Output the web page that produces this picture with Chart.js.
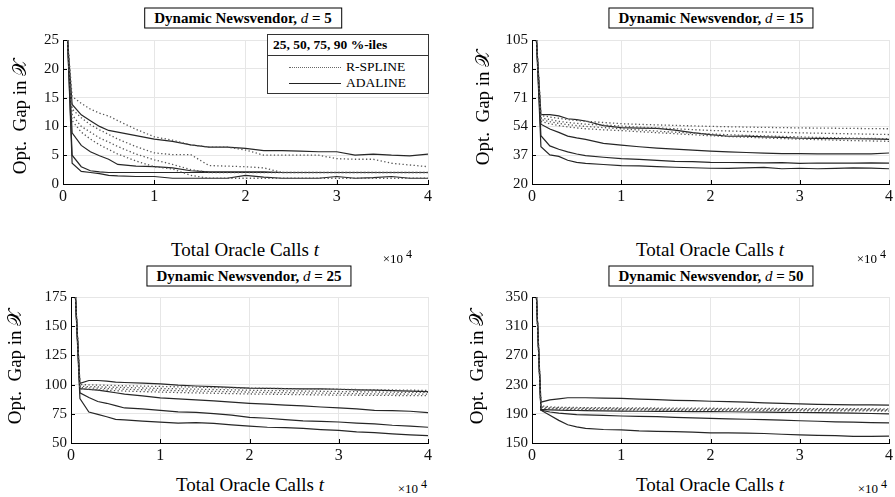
<!DOCTYPE html>
<html>
<head>
<meta charset="utf-8">
<script src="https://cdn.jsdelivr.net/npm/chart.js@4.4.1/dist/chart.umd.min.js"></script>
<style>
body{margin:0;background:#fff;width:895px;height:497px;position:relative;overflow:hidden;font-family:"Liberation Serif","Times New Roman",Times,"DejaVu Serif",serif;color:#000}
canvas{position:absolute}
.ttl{position:absolute;transform:translate(-50%,-50%);border:1px solid #000;background:#fff;font-weight:bold;font-size:15px;padding:0 9px;line-height:19px;white-space:nowrap}
.ttl i{font-weight:normal}
.ylab{position:absolute;transform:translate(-50%,-50%) rotate(-90deg);font-size:19px;white-space:nowrap}
.xlab{position:absolute;transform:translate(-50%,-50%);font-size:19px;white-space:nowrap}
.exp{position:absolute;transform:translate(-100%,-50%);font-size:13px;white-space:nowrap}
.exp sup{font-size:12px}
#leg{position:absolute;left:267px;top:34px;width:160px;height:58px;border:1px solid #333;background:#fff;font-size:13.5px}
#leg .hd{font-weight:bold;height:20px;line-height:20px;padding-left:5px;border-bottom:1px solid #333}
#leg .row{position:absolute;left:0;height:16px;line-height:16px}
#leg .sw{position:absolute;left:21px;width:52px;top:8px}
#leg .tx{position:absolute;left:78px;top:0}
</style>
</head>
<body>
<canvas id="c5"></canvas>
<canvas id="c15"></canvas>
<canvas id="c25"></canvas>
<canvas id="c50"></canvas>

<div class="ttl" style="left:243px;top:18px">Dynamic Newsvendor, <i>d</i> = 5</div>
<div class="ttl" style="left:711px;top:18px">Dynamic Newsvendor, <i>d</i> = 15</div>
<div class="ttl" style="left:249px;top:276px">Dynamic Newsvendor, <i>d</i> = 25</div>
<div class="ttl" style="left:711px;top:276px">Dynamic Newsvendor, <i>d</i> = 50</div>

<div class="ylab" style="left:20px;top:117px">Opt.&nbsp; Gap in 𝒳</div>
<div class="ylab" style="left:483px;top:108px">Opt.&nbsp; Gap in 𝒳</div>
<div class="ylab" style="left:15px;top:367px">Opt.&nbsp; Gap in 𝒳</div>
<div class="ylab" style="left:477px;top:367px">Opt.&nbsp; Gap in 𝒳</div>

<div class="xlab" style="left:245px;top:250px">Total Oracle Calls <i>t</i></div>
<div class="xlab" style="left:710px;top:250px">Total Oracle Calls <i>t</i></div>
<div class="xlab" style="left:250px;top:485px">Total Oracle Calls <i>t</i></div>
<div class="xlab" style="left:710px;top:485px">Total Oracle Calls <i>t</i></div>

<div class="exp" style="left:412px;top:257px">×10<sup> 4</sup></div>
<div class="exp" style="left:886px;top:257px">×10<sup> 4</sup></div>
<div class="exp" style="left:427px;top:487px">×10<sup> 4</sup></div>
<div class="exp" style="left:887px;top:487px">×10<sup> 4</sup></div>

<div id="leg">
  <div class="hd">25, 50, 75, 90 %-iles</div>
  <div class="row" style="top:24px;width:160px"><div class="sw" style="border-top:1.3px dotted #666"></div><div class="tx">R-SPLINE</div></div>
  <div class="row" style="top:40px;width:160px"><div class="sw" style="border-top:1.3px solid #222"></div><div class="tx">ADALINE</div></div>
</div>

<script>
// oracle calls (x)
const tCalls = [500, 1000, 2000, 3000, 4000, 5000, 6000, 8000, 10000, 12000, 14000, 16000, 18000, 20000, 22000, 24000, 26000, 28000, 30000, 32000, 34000, 36000, 38000, 40000];
const xTicks = [0, 10000, 20000, 30000, 40000];

// d = 5
const yTicks5 = [0, 5, 10, 15, 20, 25];
const yLabels5 = ['0', '5', '10', '15', '20', '25'];
const rspline5 = [
  [25, 11.0, 9.0, 7.8, 6.8, 6.0, 5.2, 4.0, 3.0, 2.6, 1.5, 1.0, 1.0, 1.0, 1.0, 1.0, 1.0, 1.0, 1.0, 1.0, 1.0, 1.0, 1.0, 1.0],
  [25, 12.0, 10.0, 9.0, 8.0, 7.3, 6.5, 5.2, 4.2, 3.4, 2.5, 2.0, 2.0, 2.0, 2.0, 2.0, 2.0, 2.0, 2.0, 2.0, 2.0, 2.0, 2.0, 2.0],
  [25, 13.0, 11.5, 10.3, 9.4, 8.6, 7.8, 6.5, 5.4, 5.1, 5.1, 3.2, 3.1, 3.0, 2.8, 2.0, 2.0, 2.0, 2.0, 2.0, 2.0, 2.0, 2.0, 2.0],
  [25, 15.2, 14.0, 13.0, 12.3, 11.8, 11.0, 9.5, 8.2, 7.6, 6.8, 6.4, 6.4, 5.9, 5.0, 5.0, 5.0, 5.0, 4.4, 4.3, 4.3, 3.6, 3.3, 3.0]
];
const adaline5 = [
  [25, 3.6, 2.2, 2.0, 1.8, 1.5, 1.4, 1.3, 1.3, 1.0, 1.0, 1.0, 1.0, 1.5, 1.2, 1.0, 1.0, 1.0, 1.3, 1.0, 1.1, 1.3, 1.0, 1.0],
  [25, 5.0, 3.0, 2.3, 2.1, 2.0, 2.0, 2.0, 2.0, 2.0, 2.0, 2.0, 2.0, 2.0, 2.0, 2.0, 2.0, 2.0, 2.0, 2.0, 2.0, 2.0, 2.0, 2.0],
  [25, 8.9, 6.7, 5.6, 4.9, 4.3, 3.4, 3.1, 3.0, 2.8, 2.3, 2.1, 2.1, 2.1, 2.1, 2.0, 2.0, 2.0, 2.0, 2.0, 2.0, 2.0, 2.0, 2.0],
  [25, 13.8, 12.0, 11.0, 10.0, 9.3, 9.0, 8.4, 7.8, 7.4, 6.8, 6.4, 6.4, 6.2, 5.8, 5.8, 5.7, 5.6, 5.6, 5.0, 5.2, 5.0, 4.9, 5.2]
];

// d = 15
const yTicks15 = [20, 37, 54, 71, 88, 105];
const yLabels15 = ['20', '37', '54', '71', '87', '105'];
const rspline15 = [
  [105, 57.0, 55.5, 54.5, 53.7, 53.1, 52.6, 52.0, 51.5, 50.9, 50.3, 49.7, 49.1, 48.5, 48.0, 47.6, 47.2, 46.8, 46.5, 46.2, 45.9, 45.6, 45.4, 45.2],
  [105, 58.0, 56.8, 55.8, 55.0, 54.5, 54.0, 53.3, 52.6, 51.9, 51.2, 50.6, 50.0, 49.5, 49.1, 48.7, 48.4, 48.1, 47.8, 47.5, 47.3, 47.1, 46.9, 46.7],
  [105, 59.0, 58.0, 57.0, 56.3, 55.8, 55.3, 54.8, 54.2, 53.6, 53.1, 52.6, 52.1, 51.6, 51.3, 51.0, 50.7, 50.5, 50.2, 50.0, 49.8, 49.6, 49.4, 49.2],
  [105, 60.5, 59.5, 58.8, 58.0, 57.5, 57.0, 56.3, 55.6, 55.2, 54.9, 54.6, 54.3, 54.0, 53.8, 53.6, 53.4, 53.3, 53.1, 53.0, 52.9, 52.8, 52.7, 52.6]
];
const adaline15 = [
  [105, 42.0, 37.2, 36.3, 34.0, 32.8, 32.2, 31.5, 30.9, 30.7, 30.2, 29.9, 29.6, 29.3, 29.2, 29.5, 29.8, 29.0, 29.3, 29.0, 29.2, 29.5, 29.4, 29.0],
  [105, 48.5, 42.5, 40.5, 39.0, 37.7, 36.8, 35.8, 35.0, 34.5, 34.0, 33.4, 33.2, 32.8, 32.7, 32.6, 32.5, 32.6, 32.2, 32.4, 32.3, 32.3, 32.5, 32.3],
  [105, 55.3, 52.5, 50.5, 48.3, 47.2, 46.3, 44.0, 42.9, 42.0, 41.2, 40.6, 40.0, 39.4, 39.0, 38.6, 38.2, 37.9, 37.9, 37.8, 37.8, 37.8, 37.8, 38.3],
  [105, 61.0, 61.0, 60.2, 58.5, 58.0, 57.2, 54.5, 53.3, 53.0, 52.8, 51.8, 50.3, 49.1, 48.2, 48.3, 47.8, 47.5, 47.0, 46.9, 46.8, 46.7, 46.6, 46.4]
];

// d = 25
const yTicks25 = [50, 75, 100, 125, 150, 175];
const yLabels25 = ['50', '75', '100', '125', '150', '175'];
const rspline25 = [
  [175, 96.5, 96.0, 95.6, 95.2, 94.8, 94.5, 94.0, 93.6, 93.2, 92.9, 92.6, 92.3, 92.0, 91.8, 91.6, 91.4, 91.2, 91.0, 90.9, 90.8, 90.7, 90.6, 90.5],
  [175, 97.5, 97.2, 96.9, 96.6, 96.3, 96.0, 95.6, 95.2, 94.8, 94.5, 94.2, 93.9, 93.6, 93.3, 93.1, 92.9, 92.7, 92.5, 92.3, 92.1, 92.0, 91.9, 91.8],
  [175, 98.5, 98.3, 98.1, 97.9, 97.7, 97.5, 97.1, 96.7, 96.4, 96.1, 95.8, 95.5, 95.2, 94.9, 94.7, 94.5, 94.3, 94.1, 93.9, 93.7, 93.5, 93.4, 93.3],
  [175, 100.0, 99.8, 99.6, 99.4, 99.2, 99.0, 98.7, 98.4, 98.1, 97.8, 97.5, 97.2, 97.0, 96.8, 96.6, 96.4, 96.2, 96.0, 95.8, 95.6, 95.4, 95.2, 95.0]
];
const adaline25 = [
  [175, 88.0, 76.5, 74.5, 72.5, 70.3, 69.8, 68.8, 67.8, 67.0, 67.5, 66.8, 65.5, 64.5, 63.5, 63.2, 62.5, 61.5, 60.8, 59.5, 58.8, 57.8, 57.0, 56.3],
  [175, 93.0, 89.0, 85.5, 84.0, 82.0, 80.0, 79.2, 78.0, 76.7, 76.2, 75.2, 73.8, 72.0, 71.2, 70.0, 69.0, 68.5, 68.0, 67.0, 66.3, 65.2, 64.5, 63.5],
  [175, 96.5, 95.8, 95.2, 94.2, 93.0, 91.8, 90.3, 88.6, 87.7, 87.0, 86.0, 85.0, 84.0, 83.3, 82.5, 81.8, 80.8, 80.0, 79.2, 78.0, 77.8, 77.2, 76.0],
  [175, 101.0, 103.5, 103.5, 103.0, 102.2, 101.8, 101.2, 100.6, 99.5, 98.8, 98.3, 97.6, 97.0, 96.8, 96.5, 96.3, 96.3, 96.0, 95.5, 95.2, 94.8, 94.4, 94.0]
];

// d = 50
const yTicks50 = [150, 190, 230, 270, 310, 350];
const yLabels50 = ['150', '190', '230', '270', '310', '350'];
const rspline50 = [
  [350, 197.5, 196.5, 196.2, 196.0, 195.8, 195.6, 195.4, 195.2, 195.0, 194.9, 194.8, 194.7, 194.6, 194.5, 194.4, 194.3, 194.2, 194.1, 194.0, 194.0, 193.9, 193.9, 193.8],
  [350, 198.5, 197.5, 197.2, 197.0, 196.8, 196.6, 196.4, 196.2, 196.0, 195.9, 195.8, 195.7, 195.6, 195.5, 195.4, 195.3, 195.2, 195.1, 195.0, 195.0, 194.9, 194.9, 194.8],
  [350, 199.5, 198.5, 198.2, 198.0, 197.8, 197.6, 197.4, 197.2, 197.0, 196.9, 196.8, 196.7, 196.6, 196.5, 196.4, 196.3, 196.2, 196.1, 196.0, 196.0, 195.9, 195.9, 195.8],
  [350, 201.0, 199.5, 199.0, 198.8, 198.6, 198.5, 198.3, 198.2, 198.0, 197.9, 197.8, 197.7, 197.6, 197.5, 197.4, 197.3, 197.2, 197.1, 197.0, 197.0, 196.9, 196.9, 196.8]
];
const adaline50 = [
  [350, 195.0, 188.0, 181.0, 175.0, 172.0, 170.0, 168.5, 168.0, 166.5, 166.0, 165.5, 165.0, 164.0, 163.8, 163.5, 163.0, 162.0, 161.0, 160.5, 160.0, 159.0, 159.0, 159.5],
  [350, 195.0, 192.5, 191.0, 190.0, 189.0, 188.5, 187.8, 187.0, 186.5, 186.0, 185.2, 184.5, 183.8, 183.0, 182.5, 182.0, 181.3, 180.5, 179.8, 179.0, 178.5, 178.0, 177.5],
  [350, 196.0, 195.5, 195.0, 194.8, 194.5, 194.3, 194.0, 193.8, 193.5, 193.3, 193.2, 193.0, 193.0, 192.8, 192.5, 192.2, 192.0, 191.8, 191.5, 191.2, 190.8, 190.4, 190.0],
  [350, 206.0, 209.0, 210.5, 212.0, 212.0, 212.0, 211.5, 211.0, 210.2, 209.3, 208.5, 208.0, 207.2, 206.8, 206.0, 205.0, 204.3, 203.5, 203.0, 202.5, 202.3, 202.2, 202.0]
];

const serif = '"Liberation Serif", "Times New Roman", Times, "DejaVu Serif", serif';

// small inward tick marks like the matlab axes
const innerTicks = {
  id: 'innerTicks',
  afterDraw(chart) {
    const ctx = chart.ctx, a = chart.chartArea;
    const xs = chart.scales.x, ys = chart.scales.y;
    ctx.save();
    ctx.strokeStyle = '#000';
    ctx.lineWidth = 1;
    ctx.beginPath();
    xs.ticks.forEach(t => {
      const px = Math.round(xs.getPixelForValue(t.value)) + 0.5;
      ctx.moveTo(px, a.bottom);
      ctx.lineTo(px, a.bottom - 4);
    });
    ys.ticks.forEach(t => {
      const py = Math.round(ys.getPixelForValue(t.value)) + 0.5;
      ctx.moveTo(a.left, py);
      ctx.lineTo(a.left + 4, py);
    });
    ctx.stroke();
    ctx.restore();
  }
};

function makePanel(id, area, yTicks, yLabels, rsp, ada) {
  const yW = 44, xH = 26, padT = 6, padR = 8;
  const cv = document.getElementById(id);
  cv.width = area.r - area.l + yW + padR;
  cv.height = area.b - area.t + padT + xH;
  cv.style.left = (area.l - yW) + 'px';
  cv.style.top = (area.t - padT) + 'px';

  const datasets = [];
  rsp.forEach(vals => datasets.push({
    data: vals.map((v, i) => ({ x: tCalls[i], y: v })),
    borderColor: '#555',
    borderWidth: 1.3,
    borderDash: [1.3, 2.4]
  }));
  ada.forEach(vals => datasets.push({
    data: vals.map((v, i) => ({ x: tCalls[i], y: v })),
    borderColor: '#262626',
    borderWidth: 1.2
  }));

  new Chart(cv, {
    type: 'line',
    data: { datasets: datasets },
    options: {
      responsive: false,
      animation: false,
      devicePixelRatio: 1,
      layout: { padding: { top: padT, right: padR, left: 0, bottom: 0 } },
      elements: { point: { radius: 0 }, line: { tension: 0 } },
      plugins: { legend: { display: false }, tooltip: { enabled: false } },
      scales: {
        x: {
          type: 'linear',
          min: 0,
          max: 40000,
          afterBuildTicks: s => { s.ticks = xTicks.map(v => ({ value: v })); },
          afterFit: s => { s.height = xH; },
          grid: { color: '#e6e6e6', drawTicks: false },
          border: { display: true, color: '#000', width: 1 },
          ticks: {
            padding: 3,
            color: '#111',
            font: { family: serif, size: 16 },
            maxRotation: 0,
            callback: v => String(v / 10000)
          }
        },
        y: {
          min: yTicks[0],
          max: yTicks[yTicks.length - 1],
          afterBuildTicks: s => { s.ticks = yTicks.map(v => ({ value: v })); },
          afterFit: s => { s.width = yW; },
          grid: { color: '#e6e6e6', drawTicks: false },
          border: { display: true, color: '#000', width: 1 },
          ticks: {
            padding: 4,
            color: '#111',
            font: { family: serif, size: 15 },
            callback: (v, i) => yLabels[i]
          }
        }
      }
    },
    plugins: [innerTicks]
  });
}

makePanel('c5', { l: 63, t: 33, r: 428, b: 184 }, yTicks5, yLabels5, rspline5, adaline5);
makePanel('c15', { l: 532, t: 33, r: 889, b: 184 }, yTicks15, yLabels15, rspline15, adaline15);
makePanel('c25', { l: 71, t: 290, r: 428, b: 443 }, yTicks25, yLabels25, rspline25, adaline25);
makePanel('c50', { l: 532, t: 290, r: 889, b: 443 }, yTicks50, yLabels50, rspline50, adaline50);
</script>
</body>
</html>
